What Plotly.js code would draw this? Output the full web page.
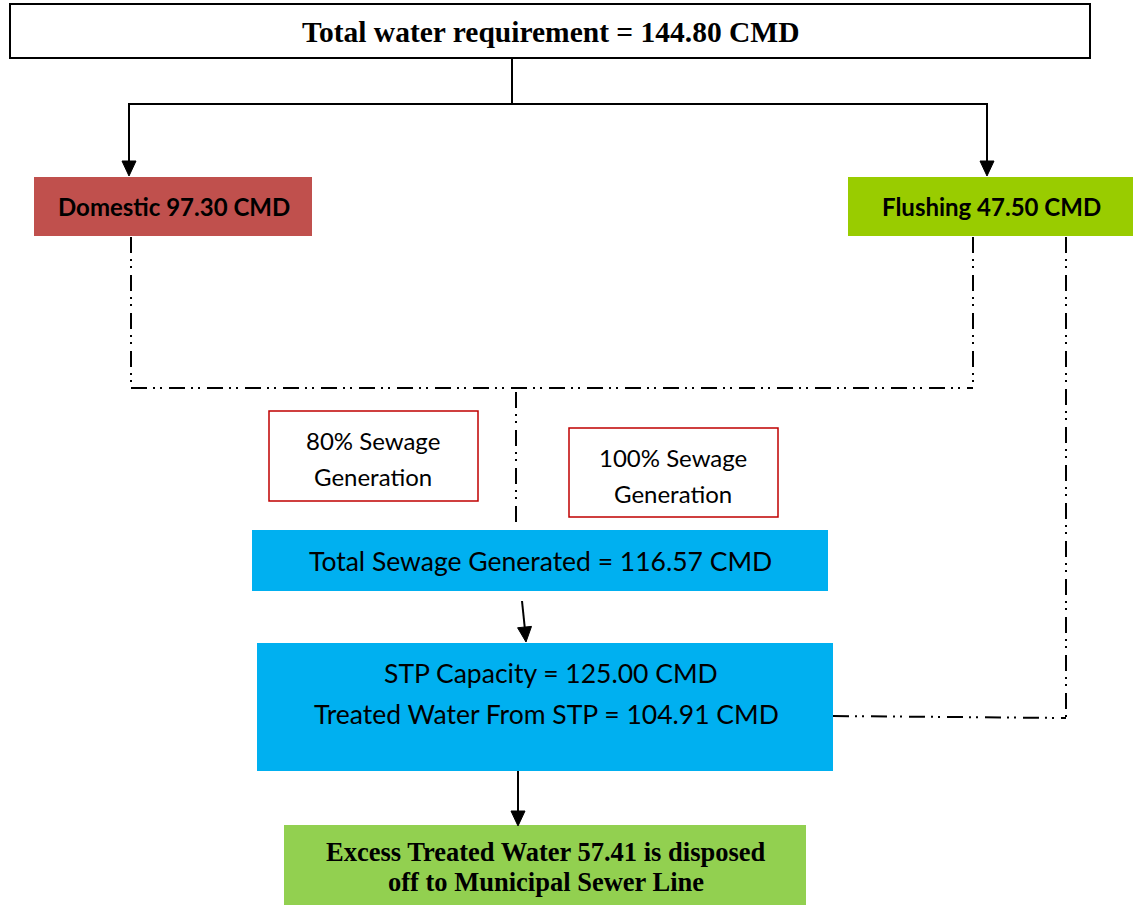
<!DOCTYPE html>
<html><head><meta charset="utf-8">
<script src="https://cdn.plot.ly/plotly-3.0.1.min.js"></script>
<style>html,body{margin:0;padding:0;background:#fff}</style>
</head><body><div id="chart" style="width:1144px;height:906px"></div>
<script>
// ---- data ----
const totalRequirement = [144.80];
const useNames = ['Domestic', 'Flushing'];
const useValues = [97.30, 47.50];
const sewagePercents = [80, 100];
const sewageGenerated = [116.57];
const stpCapacity = [125.00];
const treatedWater = [104.91];
const excessWater = [57.41];

const f2 = v => v.toFixed(2);
const shapes = [];
const ann = [];
function rect(x0, y0, x1, y1, fill, lc, lw) {
  shapes.push({type:'rect', xref:'x', yref:'y', x0, y0, x1, y1, fillcolor:fill,
    line:{color:lc || fill, width: lw === undefined ? 0 : lw}, layer:'below'});
}
function line(x0, y0, x1, y1, dash, w) {
  shapes.push({type:'line', xref:'x', yref:'y', x0, y0, x1, y1,
    line:{color:'#000', width:w || 2, dash: dash || 'solid'}});
}
function arrowHead(x0, y0, x1, y1) {
  const dx = x1 - x0, dy = y1 - y0, L = Math.hypot(dx, dy);
  const ux = dx / L, uy = dy / L, h = 15, hw = 7;
  const bx = x1 - ux * h, by = y1 - uy * h;
  shapes.push({type:'path', xref:'x', yref:'y',
    path:`M ${bx - uy*hw},${by + ux*hw} L ${bx + uy*hw},${by - ux*hw} L ${x1},${y1} Z`,
    fillcolor:'#000', line:{color:'#000', width:1}});
}
function arrow(x0, y0, x1, y1) { line(x0, y0, x1, y1 - 10, 'solid', 2); arrowHead(x0, y0, x1, y1); }
function text(x, y, t, size, fam, bold) {
  ann.push({x, y, xref:'x', yref:'y', text: bold ? '<b>' + t + '</b>' : t, showarrow:false,
    font:{family:fam, size, color:'#000'}, xanchor:'center', yanchor:'middle'});
}
const serif = 'Liberation Serif, Times New Roman, serif';
const sans = 'Lato, Open Sans, sans-serif';
const dd = '16px,6px,2px,5px,2px,7px';

// top box
rect(10, 4, 1090, 58, '#fff', '#000', 2);
text(551, 32, `Total water requirement = ${f2(totalRequirement[0])} CMD`, 29.5, serif, true);
line(512, 58, 512, 104);
line(128, 104, 988, 104);
arrow(129, 104, 129, 176);
arrow(987, 104, 987, 176);

// use boxes
rect(34, 177, 312, 236, '#C0504D');
text(174, 206, `${useNames[0]} ${f2(useValues[0])} CMD`, 24, sans, true);
rect(848, 177, 1133, 236, '#99CC00');
text(991, 206, `${useNames[1]} ${f2(useValues[1])} CMD`, 24, sans, true);

// dash-dot connectors
line(131, 237, 131, 388, dd, 2);
line(131, 388, 973, 388, dd, 2);
line(973, 237, 973, 388, dd, 2);
line(516, 392, 516, 528, dd, 2);
line(1066, 237, 1066, 718, dd, 2);
line(833, 716, 1066, 718, dd, 2);

// sewage generation labels
rect(269, 411, 478, 501, '#fff', '#C00000', 1.5);
text(373, 440, `${sewagePercents[0]}% Sewage`, 24, sans, false);
text(373, 476, 'Generation', 24, sans, false);
rect(569, 428, 778, 517, '#fff', '#C00000', 1.5);
text(673, 457, `${sewagePercents[1]}% Sewage`, 24, sans, false);
text(673, 493, 'Generation', 24, sans, false);

// total sewage
rect(252, 530, 828, 591, '#00B0F0');
text(540, 561, `Total Sewage Generated = ${f2(sewageGenerated[0])} CMD`, 26.5, sans, false);
line(522, 601, 525, 630);
arrowHead(522, 601, 526, 642);

// STP
rect(257, 643, 833, 771, '#00B0F0');
text(551, 673, `STP Capacity = ${f2(stpCapacity[0])} CMD`, 26.5, sans, false);
text(546, 714, `Treated Water From STP = ${f2(treatedWater[0])} CMD`, 26.5, sans, false);
line(518, 771, 518, 815);
arrowHead(518, 771, 518, 826);

// excess
rect(284, 825, 806, 905, '#92D050');
text(546, 852, `Excess Treated Water ${f2(excessWater[0])} is disposed`, 26.5, serif, true);
text(546, 882, 'off to Municipal Sewer Line', 26.5, serif, true);

Plotly.newPlot('chart', [], {
  width:1144, height:906, margin:{l:0, r:0, t:0, b:0},
  paper_bgcolor:'#fff', plot_bgcolor:'#fff', showlegend:false,
  xaxis:{range:[0,1144], visible:false, fixedrange:true},
  yaxis:{range:[906,0], visible:false, fixedrange:true},
  shapes, annotations: ann
}, {staticPlot:true});
</script></body></html>
